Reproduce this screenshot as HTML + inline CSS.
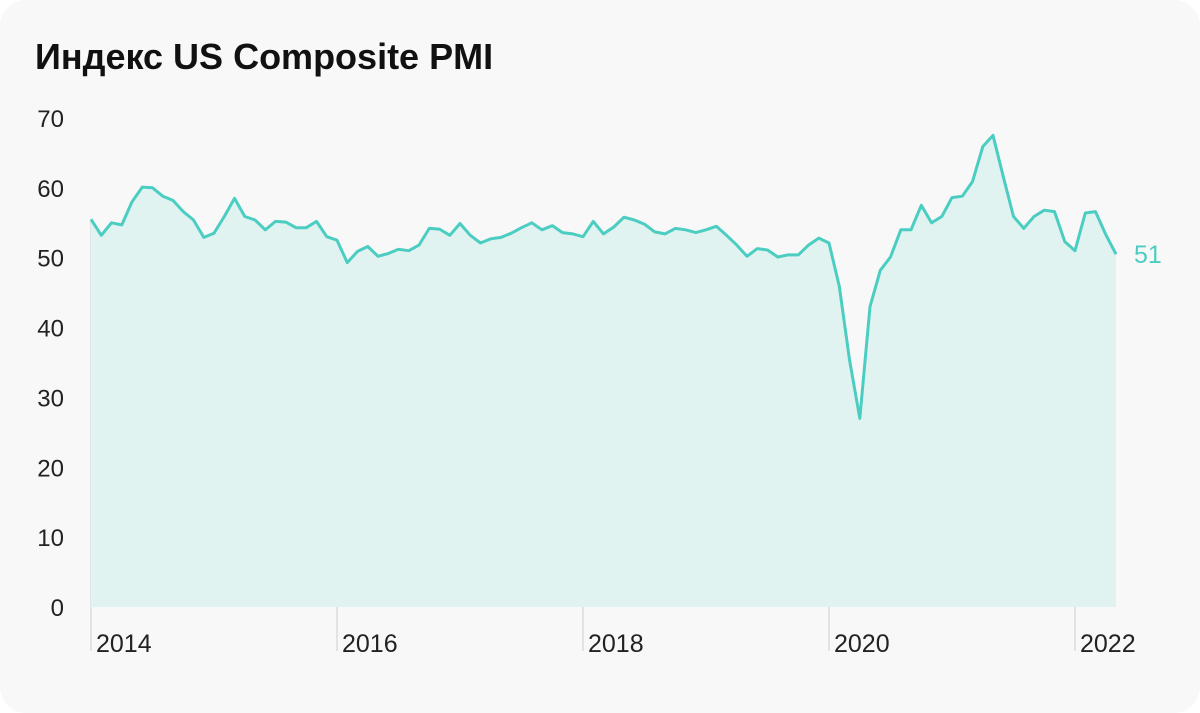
<!DOCTYPE html>
<html><head><meta charset="utf-8"><style>
html,body{margin:0;padding:0;background:#fff;}
#card{position:absolute;left:0;top:0;width:1200px;height:713px;background:#f8f8f8;border-radius:26px;overflow:hidden;}
svg text{font-family:"Liberation Sans",sans-serif;}
</style></head><body>
<div id="card">
<svg id="chart" width="1200" height="713">
<text x="35" y="69" font-size="36" font-weight="bold" fill="#111">Индекс US Composite PMI</text>
<g id="grid"></g><g id="area"></g><g id="yaxis"></g><g id="xaxis"></g><g id="lbl"></g>
</svg>
</div>
<script>
const values=[55.5,53.2,55.0,54.7,58.0,60.1,60.0,58.8,58.2,56.6,55.4,52.9,53.5,55.9,58.5,55.9,55.4,54.0,55.2,55.1,54.3,54.3,55.2,53.0,52.5,49.3,50.9,51.6,50.2,50.6,51.2,51.0,51.8,54.2,54.1,53.2,54.9,53.2,52.1,52.7,52.9,53.5,54.3,55.0,54.0,54.6,53.6,53.4,53.0,55.2,53.4,54.4,55.8,55.4,54.8,53.7,53.4,54.2,54.0,53.6,54.0,54.5,53.2,51.8,50.2,51.3,51.1,50.1,50.4,50.4,51.8,52.8,52.1,45.9,35.4,27.0,43.0,48.2,50.1,54.0,54.0,57.5,55.0,55.9,58.6,58.8,60.9,65.9,67.5,61.6,55.9,54.2,55.9,56.8,56.6,52.3,51.0,56.4,56.6,53.3,50.5];
const yTicks=[0,10,20,30,40,50,60,70];
const xTickLabels=["2014","2016","2018","2020","2022"];
const xTickIndex=[0,24,48,72,96];
const lastLabel="51";
const NS="http://www.w3.org/2000/svg";
const x0=91,step=10.25,yBase=607,yPer=6.986;
const xs=i=>x0+i*step;
const ys=v=>yBase-v*yPer;
function mk(t,a,p){const e=document.createElementNS(NS,t);for(const k in a)e.setAttribute(k,a[k]);document.getElementById(p).appendChild(e);return e;}
let pts=values.map((v,i)=>xs(i).toFixed(1)+","+ys(v).toFixed(1));
const last=values.length-1;
const ar=mk("path",{d:"M"+xs(0)+","+yBase+" L"+pts.join(" L")+" L"+xs(last)+","+yBase+" Z",fill:"#e0f3f1"},"area");


xTickIndex.forEach((ix,k)=>{
 const gl=mk("line",{x1:xs(ix),x2:xs(ix),y1:ys(values[ix]),y2:651,stroke:"#cfd8d8","stroke-width":1.2},"grid");
 
 
 const t=mk("text",{x:xs(ix)+5,y:652,"font-size":25,fill:"#222"},"xaxis");
 t.textContent=xTickLabels[k];
 
 
});
const ln=mk("path",{d:"M"+pts.join(" L"),fill:"none",stroke:"#4ccdc2","stroke-width":3,"stroke-linejoin":"round"},"area");


yTicks.forEach(v=>{
 const t=mk("text",{x:64,y:ys(v)+9,"font-size":24,fill:"#222","text-anchor":"end"},"yaxis");
 t.textContent=v;
 
 
});
const el=mk("text",{x:1134,y:ys(values[last])+9,"font-size":25,fill:"#4ccdc2"},"lbl");
el.textContent=lastLabel;


</script>
</body></html>
